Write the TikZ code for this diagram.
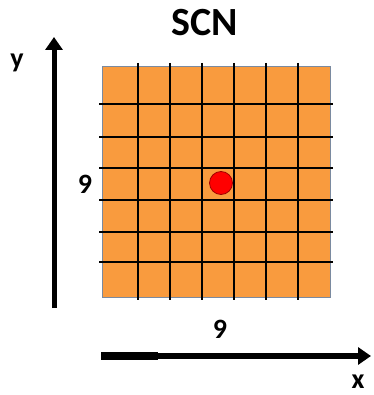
\documentclass[tikz,border=0pt]{standalone}
\usepackage{fontspec}
\setmainfont{Carlito}
\usetikzlibrary{arrows.meta,positioning}
\definecolor{CellOrange}{HTML}{F99B3E}
\definecolor{CellEdge}{HTML}{7A8AA0}
\definecolor{DotRed}{HTML}{FF0000}
\definecolor{DotEdge}{HTML}{A00000}
\tikzset{
  titlelabel/.style={font=\bfseries\fontsize{40}{40}\selectfont,inner sep=0pt},
  axislabel/.style={font=\bfseries\fontsize{28}{28}\selectfont,inner sep=0pt},
  axisarrow/.style={-{Triangle[length=13pt,width=17pt]},line width=5pt,draw=black},
  gridline/.style={line width=1.5pt,draw=black},
  lattice/.style={fill=CellOrange,draw=CellEdge,line width=0.8pt},
  site/.style={circle,fill=DotRed,draw=DotEdge,line width=0.8pt,minimum size=23pt,inner sep=0pt}
}

\begin{document}
\begin{tikzpicture}[x=1pt,y=-1pt]
\useasboundingbox (0,0) rectangle (373,395);
\fill[white] (0,0) rectangle (373,395);

% 7x7 lattice
\path[lattice] (102,66) rectangle (330,297);
\foreach \gx in {138,170,202,234,266,298}
  \draw[gridline] (\gx,63) -- (\gx,300);
\foreach \gy in {104,137,168,200,232,262}
  \draw[gridline] (99,\gy) -- (333,\gy);
\node[site] (centre) at (221,183) {};

% labels
\node[titlelabel] (title) at (205,23) {SCN};
\node[axislabel] (rows) at (85,184) {9};
\node[axislabel] (cols) at (220,329) {9};
\node[axislabel,anchor=base] (ylab) at (17,68) {y};
\node[axislabel,anchor=base] (xlab) at (358,388) {x};

% axes
\coordinate (yfoot) at (54,308);
\coordinate (ytip) at (54,37);
\coordinate (xfoot) at (101,356);
\coordinate (xbend) at (158,356);
\coordinate (xtip) at (371,356);
\draw[axisarrow] (yfoot) -- (ytip);
\draw[axisarrow,line width=6pt] (xfoot) -- (xtip);
\draw[line width=7.5pt] (xfoot) -- (xbend);
\end{tikzpicture}
\end{document}
